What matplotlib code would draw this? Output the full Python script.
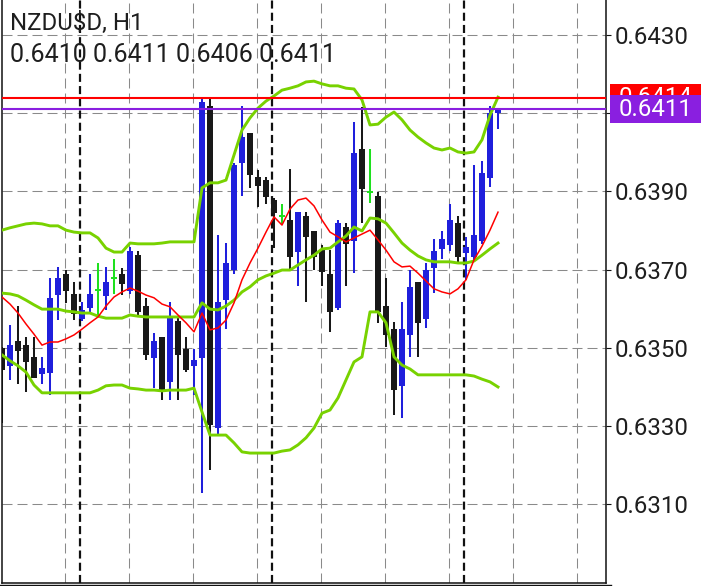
import matplotlib
matplotlib.use("Agg")
import matplotlib.pyplot as plt
from matplotlib.patches import Rectangle
from matplotlib.lines import Line2D
from matplotlib.transforms import blended_transform_factory
import numpy as np

plt.rcParams['font.family'] = ['Roboto', 'DejaVu Sans']
plt.rcParams['lines.scale_dashes'] = False

# ---------------- data ----------------
symbol_text = "NZDU$D, H1"
ohlc_text = "0.6410 0.6411 0.6406 0.6411"

opens = [0.63500, 0.63454, 0.63518, 0.63507, 0.63477, 0.63433, 0.63436, 0.63635, 0.63689, 0.63638,
         0.63574, 0.63602, 0.63648, 0.63633, 0.63679, 0.63689, 0.63645, 0.63737, 0.63607, 0.63474,
         0.63528, 0.63413, 0.63569, 0.63497, 0.63454, 0.63474, 0.64118, 0.63295, 0.63622, 0.63699,
         0.63973, 0.64049, 0.63937, 0.63929, 0.63878, 0.63837, 0.63827, 0.63745, 0.63837, 0.63799,
         0.63750, 0.63689, 0.63602, 0.63809, 0.63773, 0.64009, 0.63899, 0.63888, 0.63607, 0.63548,
         0.63403, 0.63533, 0.63668, 0.63574, 0.63704, 0.63753, 0.63763, 0.63819, 0.63743, 0.63732,
         0.63773, 0.63934, 0.64100]
highs = [0.63502, 0.63558, 0.63607, 0.63528, 0.63528, 0.63477, 0.63679, 0.63707, 0.63699, 0.63668,
         0.63617, 0.63689, 0.63717, 0.63707, 0.63727, 0.63704, 0.63758, 0.63748, 0.63628, 0.63538,
         0.63528, 0.63617, 0.63576, 0.63528, 0.63497, 0.64141, 0.64141, 0.63789, 0.63768, 0.63973,
         0.64118, 0.64049, 0.63955, 0.63937, 0.63883, 0.63868, 0.63957, 0.63847, 0.63847, 0.63799,
         0.63763, 0.63750, 0.63827, 0.63819, 0.64078, 0.64116, 0.64009, 0.63899, 0.63679, 0.63566,
         0.63617, 0.63699, 0.63668, 0.63717, 0.63778, 0.63799, 0.63868, 0.63837, 0.63784, 0.63968,
         0.63978, 0.64118, 0.64110]
lows = [0.63308, 0.63418, 0.63408, 0.63387, 0.63423, 0.63408, 0.63379, 0.63571, 0.63615, 0.63571,
        0.63569, 0.63589, 0.63579, 0.63597, 0.63638, 0.63635, 0.63638, 0.63584, 0.63469, 0.63397,
        0.63367, 0.63367, 0.63367, 0.63438, 0.63379, 0.63129, 0.63188, 0.63280, 0.63548, 0.63689,
        0.63888, 0.63909, 0.63860, 0.63868, 0.63755, 0.63817, 0.63699, 0.63658, 0.63617, 0.63699,
        0.63658, 0.63541, 0.63597, 0.63658, 0.63691, 0.63819, 0.63870, 0.63564, 0.63502, 0.63328,
        0.63321, 0.63477, 0.63477, 0.63551, 0.63640, 0.63727, 0.63748, 0.63720, 0.63674, 0.63725,
        0.63766, 0.63911, 0.64060]
closes = [0.63443, 0.63507, 0.63492, 0.63464, 0.63423, 0.63449, 0.63628, 0.63679, 0.63645, 0.63587,
          0.63597, 0.63638, 0.63648, 0.63668, 0.63679, 0.63663, 0.63748, 0.63592, 0.63482, 0.63518,
          0.63392, 0.63581, 0.63482, 0.63443, 0.63469, 0.64129, 0.63303, 0.63617, 0.63717, 0.63968,
          0.64039, 0.63942, 0.63914, 0.63886, 0.63845, 0.63837, 0.63732, 0.63847, 0.63784, 0.63732,
          0.63694, 0.63592, 0.63819, 0.63766, 0.63998, 0.63906, 0.63899, 0.63592, 0.63533, 0.63392,
          0.63548, 0.63656, 0.63564, 0.63699, 0.63748, 0.63778, 0.63827, 0.63732, 0.63758, 0.63789,
          0.63947, 0.64101, 0.64110]

bb_upper = [0.63801, 0.63807, 0.63812, 0.63817, 0.63819, 0.63817, 0.63812, 0.63812, 0.63801, 0.63796,
            0.63794, 0.63794, 0.63781, 0.63755, 0.63745, 0.63745, 0.63768, 0.63766, 0.63766, 0.63766,
            0.63768, 0.63771, 0.63771, 0.63771, 0.63771, 0.63909, 0.63922, 0.63922, 0.63929, 0.63993,
            0.64057, 0.64088, 0.64113, 0.64131, 0.64144, 0.64159, 0.64164, 0.64170, 0.64180, 0.64182,
            0.64175, 0.64170, 0.64170, 0.64164, 0.64162, 0.64134, 0.64070, 0.64072, 0.64090, 0.64103,
            0.64083, 0.64057, 0.64039, 0.64024, 0.64011, 0.64006, 0.64011, 0.64001, 0.63998, 0.64001,
            0.64032, 0.64095, 0.64141]
bb_middle = [0.63640, 0.63638, 0.63633, 0.63622, 0.63610, 0.63599, 0.63599, 0.63599, 0.63594, 0.63592,
             0.63589, 0.63589, 0.63581, 0.63576, 0.63576, 0.63576, 0.63584, 0.63581, 0.63579, 0.63579,
             0.63579, 0.63579, 0.63579, 0.63579, 0.63579, 0.63615, 0.63599, 0.63597, 0.63607, 0.63622,
             0.63643, 0.63656, 0.63674, 0.63684, 0.63691, 0.63699, 0.63699, 0.63712, 0.63725, 0.63737,
             0.63753, 0.63755, 0.63771, 0.63786, 0.63809, 0.63799, 0.63832, 0.63830, 0.63819, 0.63794,
             0.63768, 0.63750, 0.63735, 0.63725, 0.63720, 0.63720, 0.63720, 0.63717, 0.63717, 0.63722,
             0.63737, 0.63753, 0.63768]
bb_lower = [0.63482, 0.63467, 0.63454, 0.63438, 0.63405, 0.63385, 0.63385, 0.63385, 0.63385, 0.63385,
            0.63385, 0.63385, 0.63392, 0.63403, 0.63405, 0.63405, 0.63397, 0.63395, 0.63392, 0.63392,
            0.63390, 0.63392, 0.63392, 0.63392, 0.63397, 0.63336, 0.63277, 0.63277, 0.63277, 0.63257,
            0.63234, 0.63231, 0.63231, 0.63231, 0.63231, 0.63236, 0.63239, 0.63252, 0.63270, 0.63295,
            0.63333, 0.63341, 0.63372, 0.63418, 0.63464, 0.63477, 0.63592, 0.63592, 0.63564, 0.63477,
            0.63456, 0.63446, 0.63431, 0.63431, 0.63431, 0.63431, 0.63431, 0.63431, 0.63431, 0.63428,
            0.63420, 0.63413, 0.63400]
ma_red = [0.63630, 0.63612, 0.63589, 0.63561, 0.63535, 0.63507, 0.63515, 0.63515, 0.63523, 0.63533,
          0.63548, 0.63564, 0.63579, 0.63607, 0.63630, 0.63643, 0.63653, 0.63645, 0.63635, 0.63628,
          0.63612, 0.63605, 0.63584, 0.63564, 0.63541, 0.63589, 0.63546, 0.63551, 0.63571, 0.63615,
          0.63674, 0.63717, 0.63755, 0.63796, 0.63835, 0.63814, 0.63855, 0.63878, 0.63883, 0.63863,
          0.63827, 0.63796, 0.63784, 0.63771, 0.63781, 0.63791, 0.63801, 0.63776, 0.63750, 0.63720,
          0.63707, 0.63709, 0.63691, 0.63671, 0.63651, 0.63643, 0.63638, 0.63651, 0.63674, 0.63725,
          0.63760, 0.63801, 0.63847]

ask_price = 0.6414
bid_price = 0.6411
price_ticks = [0.6310, 0.6330, 0.6350, 0.6370, 0.6390, 0.6410, 0.6430]
tick_labels = ["0.6310", "0.6330", "0.6350", "0.6370", "0.6390", "", "0.6430"]
day_breaks = [9.75, 33.75, 57.75]
grid_x = [7.875 + 8 * j for j in range(9)]

# ---------------- style ----------------
BLUE = "#1f1fdc"
BLACK = "#181818"
DOJI = "#1ee01e"
BAND = "#78d200"
RED = "#ff0000"
PURPLE = "#8a1fe0"
GRID = "#8a8a8a"
TXT = "#1e1e1e"

W, H = 720, 586
fig = plt.figure(figsize=(W / 100, H / 100), dpi=100)
fig.patch.set_facecolor("white")
ax = fig.add_axes([1.5 / W, 3 / H, 604.5 / W, 583 / H])
ax.set_facecolor("white")

px_per_unit = 39108.0
ytop = 0.6430 + 35 / px_per_unit
ybot = 0.6430 - 548 / px_per_unit
ax.set_ylim(ybot, ytop)
ax.set_xlim(-0.0625, 75.5)

# grid
for v in price_ticks:
    ax.axhline(v, color=GRID, lw=0.75, ls=(0, (7.2, 3.6)), zorder=0.5)
for gx in grid_x:
    ax.axvline(gx, color=GRID, lw=0.75, ls=(0, (7.2, 3.6)), zorder=0.5)
for dx in day_breaks:
    ax.axvline(dx, color="#111111", lw=1.6, ls=(0, (5.8, 3.0)), zorder=1)

# candles
o = np.array(opens); h = np.array(highs); l = np.array(lows); c = np.array(closes)
idx = np.arange(len(o))
bull = c > o
bear = c < o
doji = c == o
ax.vlines(idx[bull], l[bull], h[bull], color=BLUE, lw=1.45, zorder=2)
ax.vlines(idx[bear], l[bear], h[bear], color=BLACK, lw=1.45, zorder=2)
ax.bar(idx[bull], (c - o)[bull], bottom=o[bull], width=0.75, color=BLUE, zorder=2.1, linewidth=0)
ax.bar(idx[bear], (o - c)[bear], bottom=c[bear], width=0.75, color=BLACK, zorder=2.1, linewidth=0)
ax.vlines(idx[doji], l[doji], h[doji], color=DOJI, lw=1.45, zorder=2)
ax.hlines(o[doji], idx[doji] - 0.375, idx[doji] + 0.375, color=DOJI, lw=1.45, zorder=2)

# indicators
ax.plot(idx, bb_upper, color=BAND, lw=2.1, zorder=3, solid_joinstyle="round")
ax.plot(idx, bb_middle, color=BAND, lw=2.1, zorder=3, solid_joinstyle="round")
ax.plot(idx, bb_lower, color=BAND, lw=2.1, zorder=3, solid_joinstyle="round")
ax.plot(idx, ma_red, color=RED, lw=1.1, zorder=3.5)

# price lines
ax.axhline(ask_price, color=RED, lw=1.5, zorder=4)
ax.axhline(bid_price, color=PURPLE, lw=1.5, zorder=4)

# axes
ax.spines["top"].set_visible(False)
for s in ["left", "right", "bottom"]:
    ax.spines[s].set_color("#111111")
    ax.spines[s].set_linewidth(1.1)
ax.set_xticks([])
ax.yaxis.tick_right()
ax.set_yticks(price_ticks)
ax.set_yticklabels(tick_labels)
ax.tick_params(axis="y", length=3.6, width=0.8, pad=2.5, labelsize=17.3,
               colors="#111111", labelcolor=TXT)

# extra bottom line
fig.add_artist(Line2D([0, 611 / W], [1 / H, 1 / H], color="#111111", lw=1.0))

# price boxes (bid box sits on top of the ask box, as in the terminal)
bt = blended_transform_factory(ax.transAxes, ax.transData)
bx0 = (610 - 1.5) / 604.5
bw = 91 / 604.5
bh = 28 / px_per_unit
ax.add_patch(Rectangle((bx0, ask_price - bh / 2), bw, bh, transform=bt,
                       facecolor=RED, edgecolor="none", clip_on=False, zorder=5))
ax.text(bx0 + bw / 2, ask_price, f"{ask_price:.4f}", transform=bt, color="white",
        fontsize=17.3, ha="center", va="center", clip_on=False, zorder=5.1)
ax.add_patch(Rectangle((bx0, bid_price - bh / 2), bw, bh, transform=bt,
                       facecolor=PURPLE, edgecolor="none", clip_on=False, zorder=6))
ax.text(bx0 + bw / 2, bid_price, f"{bid_price:.4f}", transform=bt, color="white",
        fontsize=17.3, ha="center", va="center", clip_on=False, zorder=6.1)

# header texts
fig.text(10 / W, 1 - 30 / H, symbol_text, fontsize=17.3, color=TXT,
         ha="left", va="baseline", parse_math=False)
fig.text(10 / W, 1 - 62 / H, ohlc_text, fontsize=18.0, color=TXT,
         ha="left", va="baseline")

fig.savefig("out.png", dpi=100)
